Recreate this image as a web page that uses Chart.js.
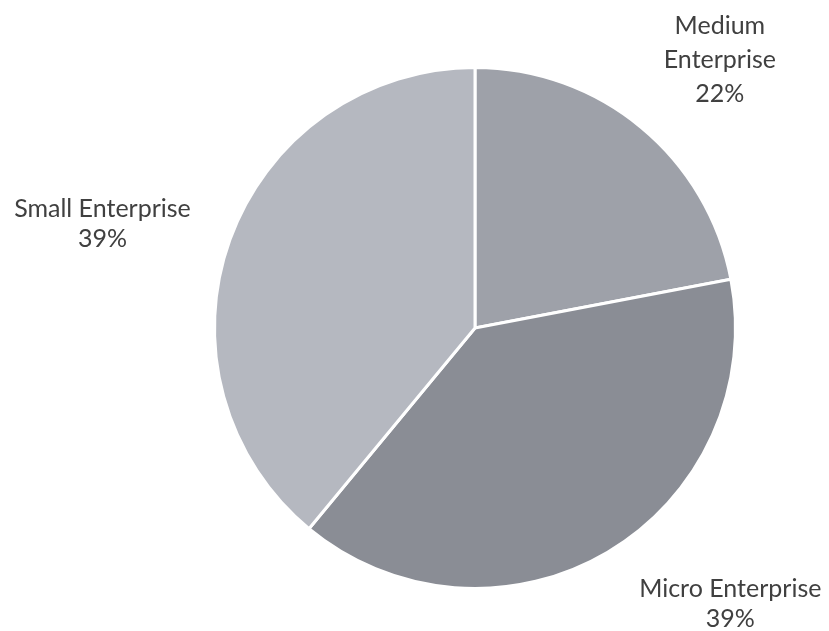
<!DOCTYPE html>
<html>
<head>
<meta charset="utf-8">
<title>Enterprise size</title>
<script src="https://cdn.jsdelivr.net/npm/chart.js@4/dist/chart.umd.min.js"></script>
<style>
    html, body { margin: 0; padding: 0; background: #fff; }
    #wrap { width: 829px; height: 631px; }
</style>
</head>
<body>
<div id="wrap"><canvas id="myChart" width="829" height="631"></canvas></div>
<script>
// share of enterprises by size
const categories = ['Medium Enterprise', 'Micro Enterprise', 'Small Enterprise']
const shares = [22, 39, 39]
const labelLines = [['Medium', 'Enterprise', '22%'], ['Micro Enterprise', '39%'], ['Small Enterprise', '39%']]
const sliceColors = ['#9ea1a9', '#8a8d95', '#b5b8c0']

// label anchors as multiples of the pie radius from its centre
const labelSpots = [
    { x: 0.94, y: -1.03, gap: 34 },
    { x: 0.98, y: 1.06, gap: 30 },
    { x: -1.43, y: -0.40, gap: 30 }
]

const outsideLabels = {
    id: 'outsideLabels',
    afterDraw(chart) {
        const ctx = chart.ctx
        const arc = chart.getDatasetMeta(0).data[0]
        const cx = arc.x, cy = arc.y, r = arc.outerRadius
        ctx.save()
        ctx.fillStyle = '#404040'
        ctx.font = '25px Lato'
        ctx.textAlign = 'center'
        ctx.textBaseline = 'middle'
        labelLines.forEach((lines, i) => {
            const spot = labelSpots[i]
            const x = cx + spot.x * r
            const y0 = cy + spot.y * r - (lines.length - 1) * spot.gap / 2
            lines.forEach((t, j) => ctx.fillText(t, x, y0 + j * spot.gap))
        })
        ctx.restore()
    }
}

const ctx = document.getElementById('myChart')
new Chart(ctx, {
    type: 'pie',
    data: {
        labels: categories,
        datasets: [{
            data: shares,
            backgroundColor: sliceColors,
            borderColor: '#ffffff',
            borderWidth: 3
        }]
    },
    options: {
        responsive: false,
        animation: false,
        layout: { padding: { top: 66, bottom: 41, left: 213, right: 92 } },
        plugins: {
            legend: { display: false },
            tooltip: { enabled: false }
        }
    },
    plugins: [outsideLabels]
})
</script>
</body>
</html>
